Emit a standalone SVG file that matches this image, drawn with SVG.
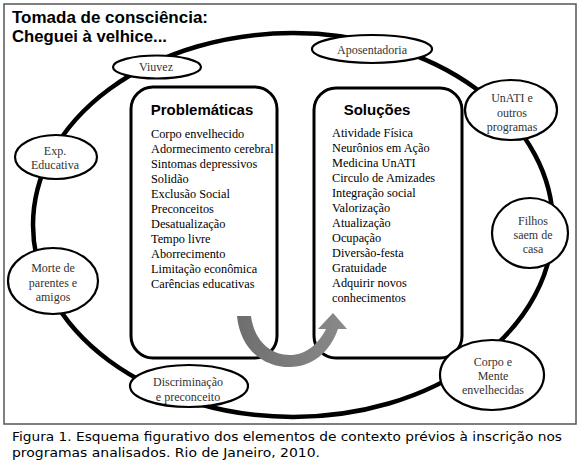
<svg xmlns="http://www.w3.org/2000/svg" width="580" height="466" viewBox="0 0 580 466">
<style>
.title{font-family:"Liberation Sans",Arial,sans-serif;font-weight:bold;font-size:16.5px;fill:#000}
.hdr{font-family:"Liberation Sans",Arial,sans-serif;font-weight:bold;font-size:15px;fill:#000;text-anchor:middle}
.item{font-family:"Liberation Serif","Times New Roman",serif;font-size:12.3px;fill:#000}
.node ellipse{fill:#fff;stroke:#000;stroke-width:2.2}
.node text{font-family:"Liberation Serif","Times New Roman",serif;font-size:12px;fill:#333;text-anchor:middle}
.box{fill:#fff;stroke:#000;stroke-width:3}
.cap{font-family:"DejaVu Sans",Verdana,sans-serif;font-size:12px;fill:#000}
</style>
<rect x="0" y="0" width="580" height="466" fill="#fff"/>
<rect x="4" y="4" width="572" height="420" fill="#fff" stroke="#555" stroke-width="1.5"/>
<text class="title" x="12" y="23" textLength="196" lengthAdjust="spacingAndGlyphs">Tomada de consciência:</text>
<text class="title" x="12" y="42" textLength="155" lengthAdjust="spacingAndGlyphs">Cheguei à velhice...</text>
<g id="connectors">
<ellipse cx="293" cy="225" rx="260" ry="192" fill="none" stroke="#000" stroke-width="4.5"/>
</g>
<g id="problematicas">
<rect class="box" x="131" y="87" width="146" height="271" rx="22" ry="22"/>
<text class="hdr" x="202" y="115">Problemáticas</text>
<text class="item" x="151" y="137.7">Corpo envelhecido</text>
<text class="item" x="151" y="152.7">Adormecimento cerebral</text>
<text class="item" x="151" y="167.8">Sintomas depressivos</text>
<text class="item" x="151" y="182.8">Solidão</text>
<text class="item" x="151" y="197.8">Exclusão Social</text>
<text class="item" x="151" y="212.8">Preconceitos</text>
<text class="item" x="151" y="227.9">Desatualização</text>
<text class="item" x="151" y="242.9">Tempo livre</text>
<text class="item" x="151" y="257.9">Aborrecimento</text>
<text class="item" x="151" y="273">Limitação econômica</text>
<text class="item" x="151" y="288">Carências educativas</text>
</g>
<g id="solucoes">
<rect class="box" x="314" y="88" width="148" height="270" rx="22" ry="22"/>
<text class="hdr" x="377" y="115">Soluções</text>
<text class="item" x="332" y="137.3">Atividade Física</text>
<text class="item" x="332" y="152.3">Neurônios em Ação</text>
<text class="item" x="332" y="167.2">Medicina UnATI</text>
<text class="item" x="332" y="182.2">Circulo de Amizades</text>
<text class="item" x="332" y="197.1">Integração social</text>
<text class="item" x="332" y="212.1">Valorização</text>
<text class="item" x="332" y="227">Atualização</text>
<text class="item" x="332" y="242">Ocupação</text>
<text class="item" x="332" y="256.9">Diversão-festa</text>
<text class="item" x="332" y="271.9">Gratuidade</text>
<text class="item" x="332" y="286.8">Adquirir novos</text>
<text class="item" x="332" y="301.7">conhecimentos</text>
</g>
<g id="arrow">
<defs>
<linearGradient id="ag" x1="0" y1="0" x2="1" y2="0">
<stop offset="0" stop-color="#6e6e6e"/>
<stop offset="0.5" stop-color="#7c7c7c"/>
<stop offset="1" stop-color="#8a8a8a"/>
</linearGradient>
</defs>
<path d="M237,316 L251,316 C254,340 270,355 290,355 C305,355 318,345 326,329 L318,329 L333,313 L347,329 L338,329 C330,352 312,367 290,367 C262,367 240,348 237,316 Z" fill="url(#ag)"/>
</g>
<g id="viuvez" class="node">
<ellipse cx="157" cy="67" rx="44" ry="11.5"/>
<text x="156" y="71">Viuvez</text>
</g>
<g id="aposentadoria" class="node">
<ellipse cx="372" cy="49" rx="60" ry="14"/>
<text x="372" y="54">Aposentadoria</text>
</g>
<g id="unati" class="node">
<ellipse cx="511" cy="110" rx="46" ry="30"/>
<text x="512" y="102">UnATI e</text>
<text x="512" y="117">outros</text>
<text x="512" y="131">programas</text>
</g>
<g id="exp" class="node">
<ellipse cx="56" cy="157" rx="41" ry="22"/>
<text x="55" y="155">Exp.</text>
<text x="55" y="169">Educativa</text>
</g>
<g id="morte" class="node">
<ellipse cx="53" cy="281" rx="45" ry="33"/>
<text x="53" y="272">Morte de</text>
<text x="53" y="287">parentes e</text>
<text x="53" y="301">amigos</text>
</g>
<g id="filhos" class="node">
<ellipse cx="530" cy="233" rx="38" ry="35"/>
<text x="533" y="225">Filhos</text>
<text x="533" y="239">saem de</text>
<text x="533" y="253">casa</text>
</g>
<g id="corpo" class="node">
<ellipse cx="492" cy="375" rx="52" ry="35"/>
<text x="493" y="366">Corpo e</text>
<text x="493" y="380">Mente</text>
<text x="493" y="394">envelhecidas</text>
</g>
<g id="discriminacao" class="node">
<ellipse cx="189" cy="386" rx="59" ry="21"/>
<text x="188" y="386">Discriminação</text>
<text x="188" y="401">e preconceito</text>
</g>
<text class="cap" x="12" y="441" textLength="550" lengthAdjust="spacingAndGlyphs">Figura 1. Esquema figurativo dos elementos de contexto prévios à inscrição nos</text>
<text class="cap" x="12" y="457" textLength="308" lengthAdjust="spacingAndGlyphs">programas analisados. Rio de Janeiro, 2010.</text>
</svg>
